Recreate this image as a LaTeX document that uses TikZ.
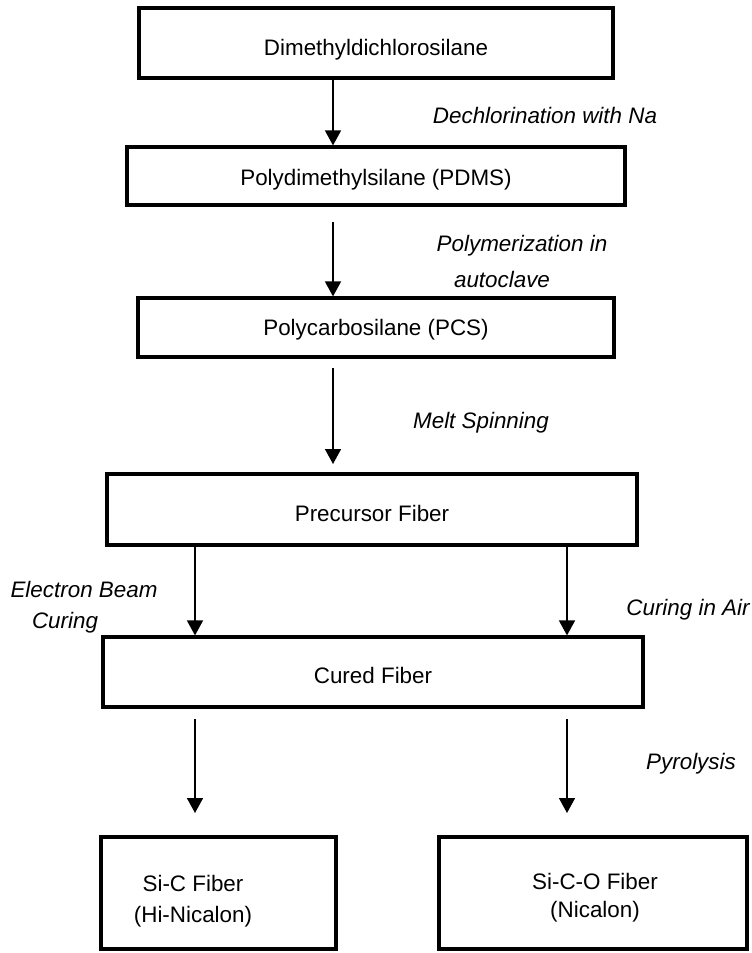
\documentclass[tikz,border=0pt]{standalone}
\usepackage{fontspec}
\setmainfont{Liberation Sans}
\usetikzlibrary{arrows.meta}
\begin{document}
\begin{tikzpicture}[x=1pt,y=-1pt,
  box/.style={draw,line width=3.2pt,inner sep=0pt,font=\fontsize{22.4}{30}\selectfont,text depth=0pt},
  txt/.style={inner sep=0pt,anchor=base,font=\fontsize{22.4}{30}\selectfont},
  lab/.style={inner sep=0pt,anchor=base,font=\fontsize{22.4}{30}\selectfont\itshape},
  arr/.style={line width=1.6pt,-{Triangle[length=15pt,width=16pt]}}]
\useasboundingbox (0,0) rectangle (752,953);
\node[box,minimum width=474pt,minimum height=70pt,text height=24pt] (b1) at (376,43) {Dimethyldichlorosilane};
\node[box,minimum width=498pt,minimum height=58pt,text height=18pt] (b2) at (376,176) {Polydimethylsilane (PDMS)};
\node[box,minimum width=476pt,minimum height=59pt,text height=16pt] (b3) at (376,327.5) {Polycarbosilane (PCS)};
\node[box,minimum width=530pt,minimum height=71pt,text height=23pt] (b4) at (372,509.5) {Precursor Fiber};
\node[box,minimum width=540pt,minimum height=70pt,text height=22pt] (b5) at (373,672) {Cured Fiber};
\node[box,minimum width=235pt,minimum height=112pt] (b6) at (218.5,893) {};
\node[box,minimum width=308pt,minimum height=112pt] (b7) at (593,893) {};
\node[txt] (t6a) at (193,891) {Si-C Fiber};
\node[txt] (t6b) at (193,922) {(Hi-Nicalon)};
\node[txt] (t7a) at (595,889) {Si-C-O Fiber};
\node[txt] (t7b) at (595,917) {(Nicalon)};
\coordinate (cx) at (333,0);
\coordinate (lx) at (195,0);
\coordinate (rx) at (567,0);
\coordinate (a2s) at (333,222);
\coordinate (a3s) at (333,368);
\coordinate (a3e) at (333,464);
\coordinate (a5l) at (195,719);
\coordinate (a5r) at (567,719);
\coordinate (t5l) at (195,813);
\coordinate (t5r) at (567,813);
\draw[arr] (b1.south -| cx) -- (b2.north -| cx);
\draw[arr] (a2s) -- (b3.north -| cx);
\draw[arr] (a3s) -- (a3e);
\draw[arr] (b4.south -| lx) -- (b5.north -| lx);
\draw[arr] (b4.south -| rx) -- (b5.north -| rx);
\draw[arr] (a5l) -- (t5l);
\draw[arr] (a5r) -- (t5r);
\node[lab] (l1) at (545,123) {Dechlorination with Na};
\node[lab] (l2a) at (522,251) {Polymerization in};
\node[lab] (l2b) at (502,287) {autoclave};
\node[lab] (l3) at (481,428) {Melt Spinning};
\node[lab] (l4a) at (84,597) {Electron Beam};
\node[lab] (l4b) at (65,628) {Curing};
\node[lab] (l5) at (688,615) {Curing in Air};
\node[lab] (l6) at (691,769) {Pyrolysis};
\end{tikzpicture}
\end{document}
